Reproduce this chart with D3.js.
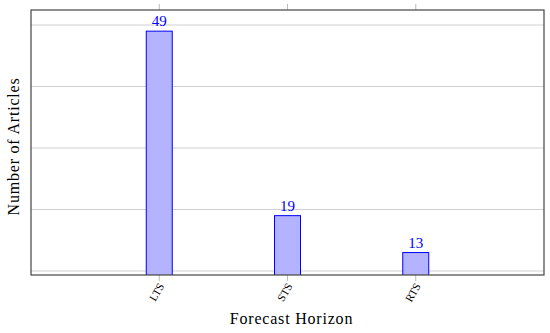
<!DOCTYPE html>
<html>
<head>
<meta charset="utf-8">
<script src="https://cdn.jsdelivr.net/npm/d3@7"></script>
<style>
  body { margin: 0; background: #fff; }
  text { font-family: "Liberation Serif", "DejaVu Serif", serif; }
</style>
</head>
<body>
<script>
// chart data
const categories = ["LTS", "STS", "RTS"];
const counts = [49, 19, 13];
const gridValues = [10, 20, 30, 40, 50];

const width = 550, height = 333;
const plotLeft = 31, plotRight = 544, plotTop = 10, plotBottom = 275;

const svg = d3.select("body").append("svg")
  .attr("width", width).attr("height", height);

const x = d3.scalePoint().domain(categories).range([plotLeft, plotRight]).padding(1);
const y = d3.scaleLinear().domain([9.35, 52.44]).range([plotBottom, plotTop]);

// grid
svg.append("g").selectAll("line")
  .data(gridValues)
  .enter().append("line")
  .attr("x1", plotLeft).attr("x2", plotRight)
  .attr("y1", d => y(d)).attr("y2", d => y(d))
  .attr("stroke", "#d0d0d0").attr("stroke-width", 1);

// clip for bars
svg.append("clipPath").attr("id", "clip")
  .append("rect").attr("x", plotLeft).attr("y", plotTop)
  .attr("width", plotRight - plotLeft).attr("height", plotBottom - plotTop);

const barW = 26;
svg.append("g").attr("clip-path", "url(#clip)").selectAll("rect")
  .data(categories)
  .enter().append("rect")
  .attr("x", d => x(d) - barW / 2)
  .attr("width", barW)
  .attr("y", (d, i) => y(counts[i]))
  .attr("height", (d, i) => y(0) - y(counts[i]))
  .attr("fill", "#b3b3ff")
  .attr("stroke", "#0000ff")
  .attr("stroke-width", 1);

// value labels
svg.append("g").selectAll("text")
  .data(categories)
  .enter().append("text")
  .attr("x", d => x(d))
  .attr("y", (d, i) => y(counts[i]) - 5)
  .attr("text-anchor", "middle")
  .attr("fill", "#0000ff")
  .attr("font-size", 15)
  .text((d, i) => counts[i]);

// ticks top and bottom
const tickG = svg.append("g");
categories.forEach(c => {
  tickG.append("line").attr("x1", x(c)).attr("x2", x(c))
    .attr("y1", plotTop).attr("y2", plotTop - 6).attr("stroke", "#bbb");
  tickG.append("line").attr("x1", x(c)).attr("x2", x(c))
    .attr("y1", plotBottom).attr("y2", plotBottom + 6).attr("stroke", "#bbb");
});

// frame
svg.append("rect")
  .attr("x", plotLeft).attr("y", plotTop)
  .attr("width", plotRight - plotLeft).attr("height", plotBottom - plotTop)
  .attr("fill", "none").attr("stroke", "#444").attr("stroke-width", 1.2);

// tick labels
svg.append("g").selectAll("text")
  .data(categories)
  .enter().append("text")
  .attr("transform", d => `translate(${x(d) + 2},${plotBottom + 9}) rotate(-60)`)
  .attr("text-anchor", "end")
  .attr("dy", "0.35em")
  .attr("font-size", 11)
  .text(d => d);

// axis titles
svg.append("text")
  .attr("x", (plotLeft + plotRight) / 2 + 4).attr("y", 324)
  .attr("text-anchor", "middle")
  .attr("font-size", 16)
  .attr("letter-spacing", 0.8)
  .text("Forecast Horizon");

svg.append("text")
  .attr("transform", `translate(19,${(plotTop + plotBottom) / 2 + 4}) rotate(-90)`)
  .attr("text-anchor", "middle")
  .attr("font-size", 16)
  .attr("letter-spacing", 0.8)
  .text("Number of Articles");
</script>
</body>
</html>
